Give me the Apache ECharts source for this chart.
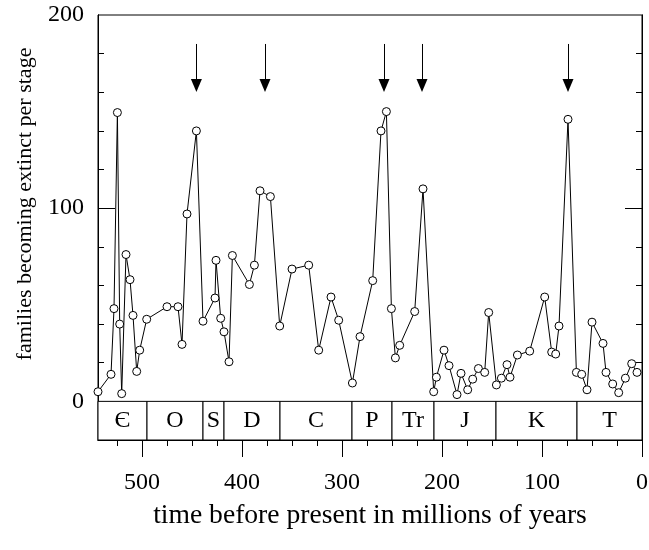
<!DOCTYPE html>
<html>
<head>
<meta charset="utf-8">
<script src="https://cdn.jsdelivr.net/npm/echarts@6/dist/echarts.min.js"></script>
<style>
  html, body { margin: 0; padding: 0; background: #fff; }
  #chart { width: 649px; height: 550px; }
</style>
</head>
<body>
<div id="chart"></div>
<script>
// Age of each stage (Myr before present) and families lost in it
const stageAge = [
  544, 531, 528, 524.6, 522.3, 520.3, 516, 512, 509, 505.3, 502.3, 495.3,
  475, 464, 460, 455, 445.6, 439, 427, 426, 421.3, 418, 413, 409.6,
  392.6, 387.6, 382, 371.6, 362.3, 350, 333.3, 323.3, 311, 303.3, 289.6, 282,
  269.3, 261, 255.6, 250.6, 246.6, 242.3, 227.3, 219, 208.3, 205.6, 198, 193,
  185, 181, 174.3, 169.3, 163.6, 157.3, 153.3, 145.6, 140.6, 135, 132, 124.6,
  112.3, 97.3, 90.3, 86.3, 83, 74, 65.6, 60.3, 55, 50, 39, 36,
  29.3, 23.3, 16.6, 10.3, 5
];
const familiesExtinct = [
  5, 14, 48, 149.5, 40, 4, 76, 63, 44.5, 15.5, 26.5, 42.5,
  49, 49, 29.5, 97, 140, 41.5, 53.5, 73, 43, 36, 20.5, 75.5,
  60.5, 70.5, 109, 106, 39, 68.5, 70.5, 26.5, 54, 42, 9.5, 33.5,
  62.5, 140, 150, 48, 22.5, 29, 46.5, 110, 5, 12.5, 26.5, 18.5,
  3.5, 14.5, 6, 11.5, 17, 15, 46, 8.5, 12, 19, 12.5, 24,
  26, 54, 25.5, 24.5, 39, 146, 15, 14, 6, 41, 30, 15,
  9, 4.5, 12, 19.5, 15
];

// Geological periods: label and boundaries (Myr)
const periodNames = ['Є', 'O', 'S', 'D', 'C', 'P', 'Tr', 'J', 'K', 'T'];
const periodStart = [544, 495, 439, 418, 362, 290, 250, 208, 146, 65];
const periodEnd   = [495, 439, 418, 362, 290, 250, 208, 146, 65, 0];

// Major mass-extinction events marked with arrows (Myr)
const eventAge = [445.6, 377, 258, 220, 74];

// Axis ticks and labels
const xLabelValues = [0, 100, 200, 300, 400, 500];
const xMinorTicks = [25, 50, 75, 125, 150, 175, 225, 250, 275, 325, 350, 375, 425, 450, 475, 525];
const yLabelValues = [0, 100, 200];
const yMajorTicks = [100];
const yMinorTicks = [20, 40, 60, 80, 120, 140, 160, 180];

const FONT = 'Liberation Serif, Times New Roman, serif';
const BLACK = '#000';

const chart = echarts.init(document.getElementById('chart'), null, { renderer: 'canvas' });

const points = stageAge.map((t, i) => [t, familiesExtinct[i]]);

const bandData = periodNames.map((name, i) => [
  { name: name, xAxis: periodStart[i], yAxis: -20 },
  { xAxis: periodEnd[i], yAxis: 0 }
]);

// Arrow shaft from 185 down to the arrowhead centred at 163.5
const arrowData = eventAge.map(t => [
  { coord: [t, 185] },
  { coord: [t, 163.5] }
]);

const tickLine = { color: BLACK, width: 1 };
const edgeLine = { show: true, onZero: false, lineStyle: tickLine };

// y axis carrying only a set of inward ticks, pinned to its grid edge
function yTickAxis(gridIndex, position, ticks, len) {
  return {
    type: 'value', gridIndex: gridIndex, min: -20, max: 200, position: position,
    axisLine: edgeLine,
    axisTick: { show: true, inside: true, length: len, customValues: ticks, lineStyle: tickLine },
    axisLabel: { show: false },
    splitLine: { show: false }
  };
}

const gridRect = { left: 98, right: 7, top: 15, bottom: 110, outerBoundsMode: 'none', containLabel: false };

chart.setOption({
  animation: false,
  backgroundColor: '#fff',
  grid: [
    Object.assign({ show: true, borderColor: BLACK, borderWidth: 1, backgroundColor: 'transparent' }, gridRect),
    Object.assign({ show: false }, gridRect)
  ],
  xAxis: [
    {
      type: 'value', gridIndex: 0, min: 0, max: 544, inverse: true, position: 'bottom',
      axisLine: edgeLine,
      axisTick: { show: true, inside: false, length: 17, customValues: xLabelValues, lineStyle: tickLine },
      axisLabel: { show: true, customValues: xLabelValues, margin: 31,
                   fontFamily: FONT, fontSize: 24, color: BLACK },
      splitLine: { show: false },
      name: 'time before present in millions of years',
      nameLocation: 'middle', nameGap: 62,
      nameTextStyle: { fontFamily: FONT, fontSize: 27.6, color: BLACK }
    },
    {
      type: 'value', gridIndex: 1, min: 0, max: 544, inverse: true, position: 'bottom',
      axisLine: edgeLine,
      axisTick: { show: true, inside: false, length: 6, customValues: xMinorTicks, lineStyle: tickLine },
      axisLabel: { show: false },
      splitLine: { show: false }
    }
  ],
  yAxis: [
    {
      type: 'value', gridIndex: 0, min: -20, max: 200, position: 'left',
      axisLine: edgeLine,
      axisTick: { show: true, inside: true, length: 6, customValues: yMinorTicks, lineStyle: tickLine },
      axisLabel: { show: true, customValues: yLabelValues, margin: 14,
                   fontFamily: FONT, fontSize: 24, color: BLACK },
      splitLine: { show: false }
    },
    yTickAxis(0, 'right', yMinorTicks, 6),
    yTickAxis(1, 'left', yMajorTicks, 17),
    yTickAxis(1, 'right', yMajorTicks, 17)
  ],
  graphic: [
    {
      type: 'text', x: 25, y: 204, rotation: Math.PI / 2,
      style: {
        text: 'families becoming extinct per stage',
        font: '22px ' + FONT, fill: BLACK,
        align: 'center', verticalAlign: 'middle'
      }
    }
  ],
  series: [
    {
      type: 'line',
      xAxisIndex: 0, yAxisIndex: 0,
      data: points,
      symbol: 'circle', symbolSize: 8,
      itemStyle: { color: '#fff', borderColor: BLACK, borderWidth: 1 },
      lineStyle: { color: BLACK, width: 1 },
      z: 3,
      markArea: {
        silent: true,
        itemStyle: { color: '#fff', borderColor: BLACK, borderWidth: 1 },
        label: { show: true, position: 'inside', fontFamily: FONT, fontSize: 24, color: BLACK },
        data: bandData
      },
      markLine: {
        silent: true,
        symbol: ['none', 'triangle'],
        symbolSize: [11, 13],
        lineStyle: { color: BLACK, width: 1, type: 'solid' },
        label: { show: false },
        data: arrowData
      }
    }
  ]
});
</script>
</body>
</html>
